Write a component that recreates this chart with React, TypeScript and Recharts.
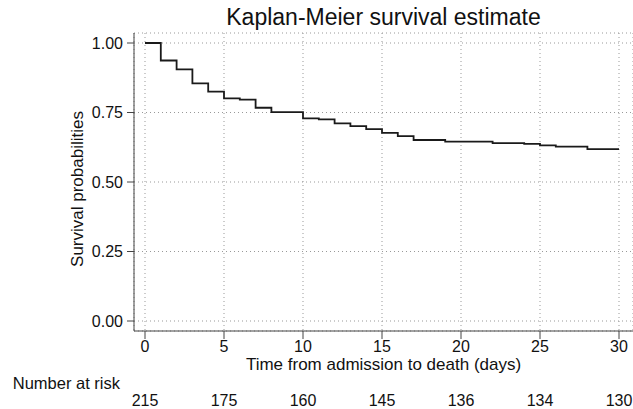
import React from "react";
import { LineChart, Line, XAxis, YAxis, CartesianGrid } from "recharts";

// Kaplan-Meier step estimate
const days = [0, 1, 2, 3, 4, 5, 6, 7, 8, 10, 11, 12, 13, 14, 15, 16, 17, 19, 22, 24, 25, 26, 28, 30];
const survival = [
  1.0, 0.937, 0.905, 0.855, 0.825, 0.801, 0.796, 0.767, 0.751, 0.729, 0.725, 0.711,
  0.701, 0.69, 0.677, 0.665, 0.651, 0.645, 0.64, 0.637, 0.632, 0.627, 0.618, 0.618,
];

const xTicks = [0, 5, 10, 15, 20, 25, 30];
const yTicks = [0, 0.25, 0.5, 0.75, 1];
const atRisk = [215, 175, 160, 145, 136, 134, 130];

const data = days.map((t, i) => ({ t, s: survival[i] }));

const FONT = '"Liberation Sans", Arial, sans-serif';

export default function App() {
  return (
    <div style={{ position: "absolute", left: 0, top: 0, width: 633, height: 409, background: "#fff", fontFamily: FONT }}>
      <div
        style={{
          position: "absolute",
          left: 134,
          width: 499,
          top: 4,
          textAlign: "center",
          fontSize: 23,
          color: "#111",
        }}
      >
        Kaplan-Meier survival estimate
      </div>
      <LineChart
        width={633}
        height={409}
        data={data}
        margin={{ top: 33, right: 0, bottom: 0, left: 0 }}
        style={{ fontFamily: FONT }}
      >
        <CartesianGrid stroke="#999" strokeDasharray="1 3" />
        <XAxis
          dataKey="t"
          type="number"
          domain={[0, 30]}
          ticks={xTicks}
          padding={{ left: 11, right: 14 }}
          height={45}
          tickSize={8}
          tickMargin={2}
          stroke="#444"
          tick={{ fill: "#111", fontSize: 16 }}
          label={{
            value: "Time from admission to death (days)",
            position: "insideBottom",
            offset: 6,
            fill: "#111",
            fontSize: 17,
          }}
        />
        <XAxis
          xAxisId="risk"
          dataKey="t"
          type="number"
          domain={[0, 30]}
          ticks={xTicks}
          padding={{ left: 11, right: 14 }}
          height={33}
          axisLine={false}
          tickLine={false}
          tickSize={0}
          tickMargin={19}
          tick={{ fill: "#111", fontSize: 16 }}
          tickFormatter={(v: number) => String(atRisk[xTicks.indexOf(v)] ?? "")}
          label={{
            value: "Number at risk",
            position: "left",
            offset: 14,
            dy: -9,
            fill: "#111",
            fontSize: 16.5,
          }}
        />
        <YAxis
          type="number"
          domain={[0, 1]}
          ticks={yTicks}
          tickFormatter={(v: number) => v.toFixed(2)}
          padding={{ top: 10, bottom: 10 }}
          width={134}
          tickSize={7}
          tickMargin={4}
          stroke="#444"
          tick={{ fill: "#111", fontSize: 16 }}
          label={{
            value: "Survival probabilities",
            angle: -90,
            position: "center",
            dx: 10,
            dy: 7,
            fill: "#111",
            fontSize: 17,
          }}
        />
        <Line
          type="stepAfter"
          dataKey="s"
          stroke="#1a1a1a"
          strokeWidth={1.8}
          dot={false}
          activeDot={false}
          isAnimationActive={false}
        />
      </LineChart>
    </div>
  );
}
